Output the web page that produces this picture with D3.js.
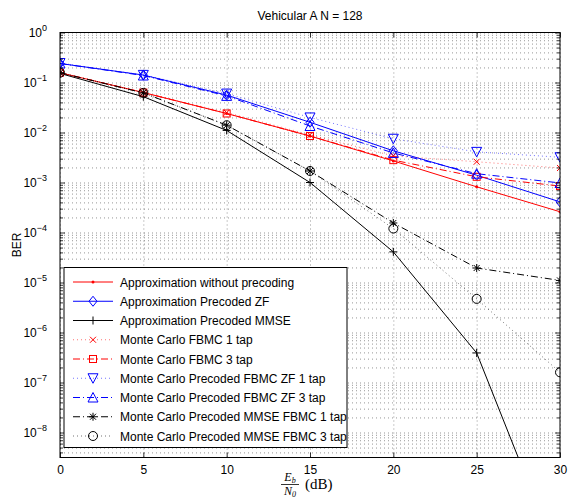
<!DOCTYPE html>
<html>
<head>
<meta charset="utf-8">
<script src="https://cdn.jsdelivr.net/npm/d3@7"></script>
<style>
  body { margin: 0; background: #fff; }
  svg { display: block; font-family: 'Liberation Sans', Arial, sans-serif; }
</style>
</head>
<body>
<div id="chart"></div>
<script>

// Eb/N0 points (dB)
var snr = [0, 5, 10, 15, 20, 25, 30];

// BER values
var approxNoPrecoding = [0.157, 0.063, 0.024, 0.0085, 0.0027, 8.2e-4, 2.6e-4];
var approxZF          = [0.24, 0.141, 0.056, 0.016, 0.0043, 1.4e-3, 4.1e-4];
var approxMMSE        = [0.152, 0.052, 0.011, 1.0e-3, 4.1e-5, 3.9e-7, 2.5e-11];
var mcFbmc1tap        = [0.157, 0.063, 0.025, 0.009, 0.0034, 2.6e-3, 1.95e-3];
var mcFbmc3tap        = [0.157, 0.063, 0.024, 0.0085, 0.0028, 1.3e-3, 8.5e-4];
var mcZF1tap          = [0.245, 0.142, 0.06, 0.020, 0.0075, 4.1e-3, 3.2e-3];
var mcZF3tap          = [0.24, 0.138, 0.054, 0.0135, 0.0039, 1.5e-3, 9.8e-4];
var mcMMSE1tap        = [0.157, 0.062, 0.014, 0.0017, 1.55e-4, 1.95e-5, 1.1e-5];
var mcMMSE3tap        = [0.157, 0.062, 0.014, 0.0017, 1.2e-4, 4.7e-6, 1.6e-7];

// tick labels
var xTicks = [0, 5, 10, 15, 20, 25, 30];
var yExponents = [0, -1, -2, -3, -4, -5, -6, -7, -8];

var seriesNames = [
    'Approximation without precoding'
  , 'Approximation Precoded ZF'
  , 'Approximation Precoded MMSE'
  , 'Monte Carlo FBMC 1 tap'
  , 'Monte Carlo FBMC 3 tap'
  , 'Monte Carlo Precoded FBMC ZF 1 tap'
  , 'Monte Carlo Precoded FBMC ZF 3 tap'
  , 'Monte Carlo Precoded MMSE FBMC 1 tap'
  , 'Monte Carlo Precoded MMSE FBMC 3 tap'
];

var DOT = '1,3', DASHDOT = '7,3,1,3';

var series = [
    { values: approxNoPrecoding, color: '#ff0000', dash: null, marker: 'dot' }
  , { values: approxZF, color: '#0000ff', dash: null, marker: 'diamond' }
  , { values: approxMMSE, color: '#000000', dash: null, marker: 'plus' }
  , { values: mcFbmc1tap, color: '#ff0000', dash: DOT, marker: 'cross', faint: true }
  , { values: mcFbmc3tap, color: '#ff0000', dash: DASHDOT, marker: 'square' }
  , { values: mcZF1tap, color: '#0000ff', dash: DOT, marker: 'down', faint: true }
  , { values: mcZF3tap, color: '#0000ff', dash: DASHDOT, marker: 'up' }
  , { values: mcMMSE1tap, color: '#000000', dash: DASHDOT, marker: 'star' }
  , { values: mcMMSE3tap, color: '#000000', dash: DOT, marker: 'circle', faint: true }
];
series.forEach(function(s, i) { s.name = seriesNames[i]; });


var width = 569, height = 498;
// note: "top" is a reserved window property, so plot* names
var plotL = 60, plotR = 560, plotT = 32.5, plotB = 457.5;

var x = d3.scaleLinear().domain([0, 30]).range([plotL, plotR]);
var y = d3.scaleLog().domain([Math.pow(10, -8.5), 1]).range([plotB, plotT]);

var majorY = yExponents.map(function(e) { return Math.pow(10, e); });
var minorY = [];
for (var e = -9; e < 0; e++) {
  for (var k = 2; k <= 9; k++) {
    var v = k * Math.pow(10, e);
    if (v >= y.domain()[0] && v <= 1) minorY.push(v);
  }
}

var svg = d3.select('#chart').append('svg')
    .attr('width', width)
    .attr('height', height);

svg.append('defs').append('clipPath')
    .attr('id', 'plot-clip')
  .append('rect')
    .attr('x', plotL).attr('y', plotT)
    .attr('width', plotR - plotL).attr('height', plotB - plotT);

svg.append('rect')
    .attr('x', plotL).attr('y', plotT)
    .attr('width', plotR - plotL).attr('height', plotB - plotT)
    .attr('fill', '#fff');


/**
 * Dotted grid (major + minor on y, major on x)
 */
var grid = svg.append('g').attr('class', 'grid');

grid.append('g')
    .attr('transform', 'translate(' + plotL + ',0)')
    .call(d3.axisLeft(y).tickValues(majorY.concat(minorY))
      .tickSize(-(plotR - plotL)).tickFormat(''));

grid.append('g')
    .attr('transform', 'translate(0,' + plotB + ')')
    .call(d3.axisBottom(x).tickValues(xTicks)
      .tickSize(-(plotB - plotT)).tickFormat(''));

grid.selectAll('.domain').remove();
grid.selectAll('line')
    .attr('stroke', '#000')
    .attr('stroke-width', 0.6)
    .attr('stroke-opacity', 0.7)
    .attr('stroke-dasharray', '1,3');


/**
 * Marker shapes
 */
function drawMarker(g, type, color) {
  if (type === 'dot') {
    g.append('circle').attr('r', 1.5).attr('fill', color);
    return;
  }
  var shape;
  switch (type) {
    case 'diamond':
      shape = g.append('path').attr('d', 'M0,-5L4,0L0,5L-4,0Z');
      break;
    case 'plus':
      shape = g.append('path').attr('d', 'M-4,0H4M0,-4V4');
      break;
    case 'cross':
      shape = g.append('path').attr('d', 'M-3,-3L3,3M-3,3L3,-3');
      break;
    case 'square':
      shape = g.append('rect').attr('x', -3.5).attr('y', -3.5).attr('width', 7).attr('height', 7);
      break;
    case 'down':
      shape = g.append('path').attr('d', 'M-5,-4.5L5,-4.5L0,5Z');
      break;
    case 'up':
      shape = g.append('path').attr('d', 'M-5,4.5L5,4.5L0,-5Z');
      break;
    case 'star':
      shape = g.append('path').attr('d', 'M-4,0H4M0,-4V4M-3,-3L3,3M-3,3L3,-3');
      break;
    case 'circle':
      shape = g.append('circle').attr('r', 4.5);
      break;
  }
  shape.attr('fill', 'none')
      .attr('stroke', color)
      .attr('stroke-width', 1);
}


/**
 * Series
 */
var line = d3.line()
    .x(function(d) { return x(d[0]); })
    .y(function(d) { return y(d[1]); });

var plot = svg.append('g').attr('clip-path', 'url(#plot-clip)');

series.forEach(function(s) {
  var pts = snr.map(function(v, i) { return [v, s.values[i]]; });

  plot.append('path')
      .datum(pts)
      .attr('d', line)
      .attr('fill', 'none')
      .attr('stroke', s.color)
      .attr('stroke-width', 1)
      .attr('stroke-opacity', s.faint ? 0.55 : 1)
      .attr('stroke-dasharray', s.dash);

  plot.selectAll(null)
      .data(pts)
      .enter().append('g')
      .attr('transform', function(d) { return 'translate(' + x(d[0]) + ',' + y(d[1]) + ')'; })
      .each(function() { drawMarker(d3.select(this), s.marker, s.color); });
});


/**
 * Axes with inward ticks on all four sides
 */
function styleAxis(g) {
  g.selectAll('.domain').remove();
  g.selectAll('line').attr('stroke', '#000').attr('stroke-width', 0.8);
}

function bareAxis(axis, values, size) {
  return axis.tickValues(values).tickSizeInner(size).tickSizeOuter(0).tickFormat('');
}

// bottom
svg.append('g')
    .attr('transform', 'translate(0,' + plotB + ')')
    .call(d3.axisBottom(x).tickValues(xTicks).tickSizeInner(-5).tickSizeOuter(0).tickPadding(8))
    .call(styleAxis)
    .selectAll('text')
      .attr('font-size', 12)
      .attr('font-family', "'Liberation Sans', Arial, sans-serif")
      .attr('fill', '#000');

// top
svg.append('g')
    .attr('transform', 'translate(0,' + plotT + ')')
    .call(bareAxis(d3.axisTop(x), xTicks, -5))
    .call(styleAxis);

// left majors with 10^n labels
var yAxisLeft = svg.append('g')
    .attr('transform', 'translate(' + plotL + ',0)')
    .call(bareAxis(d3.axisLeft(y), majorY, -5))
    .call(styleAxis);

yAxisLeft.selectAll('.tick').each(function(d, i) {
  var t = d3.select(this).append('text')
      .attr('x', -13)
      .attr('y', 4)
      .attr('text-anchor', 'end')
      .attr('fill', '#000')
      .attr('font-size', 12)
      .attr('font-family', "'Liberation Sans', Arial, sans-serif");
  t.append('tspan').text('10');
  t.append('tspan')
      .attr('dy', -6)
      .attr('font-size', 9)
      .text(String(yExponents[i]).replace('-', '\u2212'));
});

svg.append('g')
    .attr('transform', 'translate(' + plotL + ',0)')
    .call(bareAxis(d3.axisLeft(y), minorY, -3))
    .call(styleAxis);

// right
svg.append('g')
    .attr('transform', 'translate(' + plotR + ',0)')
    .call(bareAxis(d3.axisRight(y), majorY, -5))
    .call(styleAxis);

svg.append('g')
    .attr('transform', 'translate(' + plotR + ',0)')
    .call(bareAxis(d3.axisRight(y), minorY, -3))
    .call(styleAxis);

// box
svg.append('rect')
    .attr('x', plotL).attr('y', plotT)
    .attr('width', plotR - plotL).attr('height', plotB - plotT)
    .attr('fill', 'none')
    .attr('stroke', '#000')
    .attr('stroke-width', 1);


/**
 * Title and axis labels
 */
svg.append('text')
    .attr('x', (plotL + plotR) / 2)
    .attr('y', 19.5)
    .attr('text-anchor', 'middle')
    .attr('font-size', 12)
    .text('Vehicular A N = 128');

svg.append('text')
    .attr('transform', 'translate(21,245) rotate(-90)')
    .attr('text-anchor', 'middle')
    .attr('font-size', 12)
    .text('BER');

// Eb/N0 (dB) as a fraction
var xl = svg.append('g')
    .attr('font-family', "'Liberation Serif', 'DejaVu Serif', serif");

var num = xl.append('text')
    .attr('x', 290).attr('y', 481)
    .attr('text-anchor', 'middle')
    .attr('font-size', 12);
num.append('tspan').attr('font-style', 'italic').text('E');
num.append('tspan').attr('font-style', 'italic').attr('font-size', 8).attr('dy', 2).text('b');

xl.append('line')
    .attr('x1', 281).attr('x2', 299)
    .attr('y1', 484.5).attr('y2', 484.5)
    .attr('stroke', '#000')
    .attr('stroke-width', 0.8);

var den = xl.append('text')
    .attr('x', 290).attr('y', 495)
    .attr('text-anchor', 'middle')
    .attr('font-size', 12);
den.append('tspan').attr('font-style', 'italic').text('N');
den.append('tspan').attr('font-style', 'italic').attr('font-size', 8).attr('dy', 2).text('0');

xl.append('text')
    .attr('x', 305).attr('y', 489)
    .attr('font-size', 15)
    .text('(dB)');


/**
 * Legend
 */
var legend = svg.append('g');

legend.append('rect')
    .attr('x', 64).attr('y', 267.5)
    .attr('width', 283).attr('height', 180)
    .attr('fill', '#fff')
    .attr('stroke', '#000')
    .attr('stroke-width', 1);

var rowY = d3.scaleLinear().domain([0, 8]).range([282, 436]);

series.forEach(function(s, i) {
  var row = legend.append('g')
      .attr('transform', 'translate(0,' + rowY(i) + ')');

  row.append('line')
      .attr('x1', 73).attr('x2', 113)
      .attr('stroke', s.color)
      .attr('stroke-width', 1)
      .attr('stroke-opacity', s.faint ? 0.55 : 1)
      .attr('stroke-dasharray', s.dash);

  var m = row.append('g').attr('transform', 'translate(93,0)');
  drawMarker(m, s.marker, s.color);

  row.append('text')
      .attr('x', 120)
      .attr('y', 4.5)
      .attr('font-size', 12)
      .text(s.name);
});

</script>
</body>
</html>
